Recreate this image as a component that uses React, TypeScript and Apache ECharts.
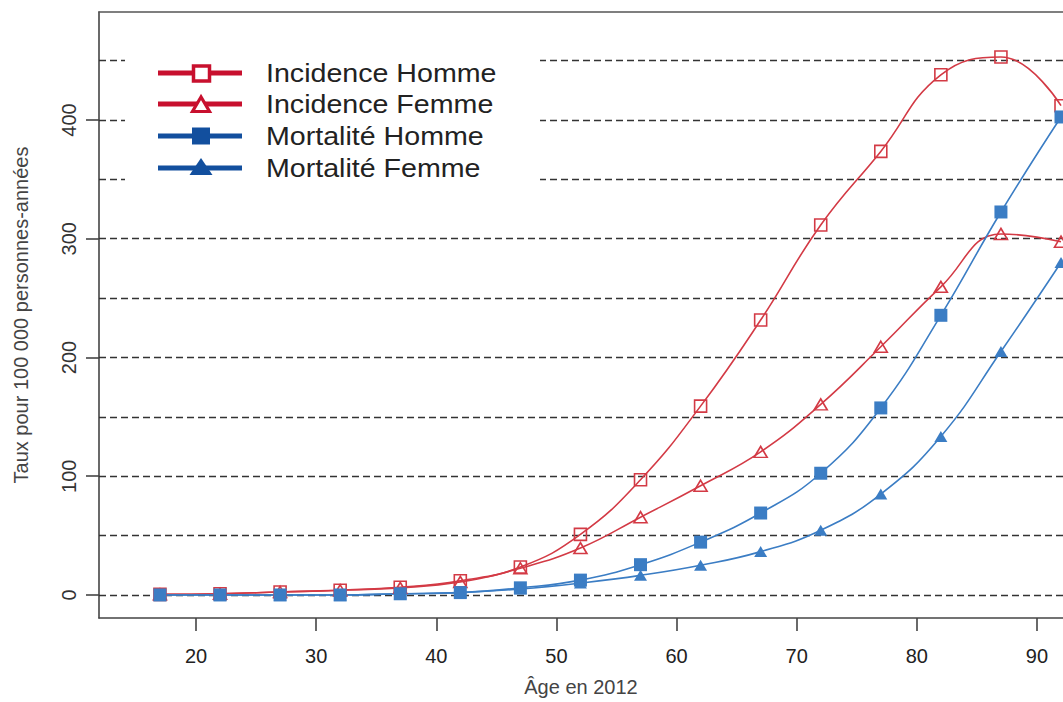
import React, { useEffect, useRef } from "react";
import * as echarts from "echarts";

const ages = [17, 22, 27, 32, 37, 42, 47, 52, 57, 62, 67, 72, 77, 82, 87, 92];
const incidenceHomme = [0.5, 1, 2.5, 4, 6.5, 12, 23.5, 51, 97, 159, 231.5, 311.5, 373.5, 438, 453, 412];
const incidenceFemme = [0.5, 1, 2.5, 4, 6, 11, 22.5, 39.5, 65.5, 92, 120.5, 160.5, 209, 259.5, 304, 297.5];
const mortaliteHomme = [0, 0, 0, 0, 1, 2, 6, 12.5, 25.5, 44.5, 69, 102.5, 157.5, 235.5, 322.5, 402.5];
const mortaliteFemme = [0, 0, 0, 0, 1, 2, 5, 10, 16.5, 25, 36.5, 54.5, 85, 133.5, 205, 280];

const xTickValues = [20, 30, 40, 50, 60, 70, 80, 90];
const yTickValues = [0, 100, 200, 300, 400];
const gridValues = [0, 50, 100, 150, 200, 250, 300, 350, 400, 450];

const seriesNames = ["Incidence Homme", "Incidence Femme", "Mortalité Homme", "Mortalité Femme"];

const RED = "#d33a45";
const BLUE = "#3b7dc4";
const LEG_RED = "#c8102e";
const LEG_BLUE = "#124f9e";
const FONT = "'Liberation Sans', Arial, sans-serif";

export default function App() {
  const ref = useRef<HTMLDivElement>(null);

  useEffect(() => {
    if (!ref.current) return;
    const chart = echarts.init(ref.current, null, { renderer: "svg" });

    const mk = (vals: number[]) => vals.map((v, i) => [ages[i], v]);

    const lineSeries = (
      name: string,
      vals: number[],
      color: string,
      symbol: string,
      size: number | number[],
      filled: boolean
    ) => ({
      name,
      type: "line",
      data: mk(vals),
      smooth: 0.45,
      symbol,
      symbolSize: size,
      showSymbol: true,
      lineStyle: { color, width: 1.6 },
      itemStyle: filled
        ? { color, borderColor: color, borderWidth: 0 }
        : { color: "rgba(255,255,255,0)", borderColor: color, borderWidth: 1.6 },
      z: 3,
    });

    const legendRows = [
      { name: seriesNames[0], color: LEG_RED, shape: "square", filled: false },
      { name: seriesNames[1], color: LEG_RED, shape: "triangle", filled: false },
      { name: seriesNames[2], color: LEG_BLUE, shape: "square", filled: true },
      { name: seriesNames[3], color: LEG_BLUE, shape: "triangle", filled: true },
    ];
    const rowY = [73, 104, 136, 168];
    const legendEls: any[] = [
      {
        type: "rect",
        shape: { x: 125, y: 40, width: 415, height: 155 },
        style: { fill: "#ffffff" },
        z: 100,
      },
    ];
    legendRows.forEach((r, i) => {
      const y = rowY[i];
      legendEls.push({
        type: "line",
        shape: { x1: 158, y1: y, x2: 242, y2: y },
        style: { stroke: r.color, lineWidth: 5 },
        z: 101,
      });
      if (r.shape === "square") {
        legendEls.push({
          type: "rect",
          shape: r.filled ? { x: 192, y: y - 8.5, width: 18, height: 17 } : { x: 193.5, y: y - 7, width: 16, height: 15 },
          style: r.filled
            ? { fill: r.color }
            : { fill: "#ffffff", stroke: r.color, lineWidth: 3.5 },
          z: 102,
        });
      } else {
        legendEls.push({
          type: "polygon",
          shape: r.filled
            ? { points: [[201, y - 10], [189.5, y + 7], [212.5, y + 7]] }
            : { points: [[201, y - 7], [192.5, y + 7.5], [209.5, y + 7.5]] },
          style: r.filled
            ? { fill: r.color }
            : { fill: "#ffffff", stroke: r.color, lineWidth: 3.2 },
          z: 102,
        });
      }
      legendEls.push({
        type: "text",
        x: 266,
        y: y,
        scaleX: 1.1,
        style: {
          text: r.name,
          fill: "#222222",
          font: `26px ${FONT}`,
          fontSize: 26,
          fontFamily: FONT,
          verticalAlign: "middle",
          textAlign: "left",
        },
        z: 103,
      });
    });

    const option: any = {
      animation: false,
      backgroundColor: "#ffffff",
      grid: { left: 99, right: 0, top: 12, bottom: 84, containLabel: false },
      xAxis: [
        {
          type: "value",
          min: 11.926,
          max: 92.166,
          position: "bottom",
          name: "Âge en 2012",
          nameLocation: "middle",
          nameGap: 59,
          nameTextStyle: { fontSize: 20, color: "#444444", fontFamily: FONT },
          axisLine: { show: true, onZero: false, lineStyle: { color: "#444444", width: 1.6 } },
          axisTick: {
            show: true,
            inside: false,
            length: 13,
            customValues: xTickValues,
            lineStyle: { color: "#444444", width: 1.6 },
          },
          axisLabel: {
            show: true,
            customValues: xTickValues,
            margin: 28,
            fontSize: 20,
            color: "#222222",
            fontFamily: FONT,
          },
          splitLine: { show: false },
        },
        {
          type: "value",
          min: 11.926,
          max: 92.166,
          position: "top",
          axisLine: { show: true, onZero: false, lineStyle: { color: "#555555", width: 1.6 } },
          axisTick: { show: false },
          axisLabel: { show: false },
          splitLine: { show: false },
        },
      ],
      yAxis: {
        type: "value",
        min: -19.4,
        max: 490.9,
        name: "Taux pour 100 000 personnes-années",
        nameLocation: "middle",
        nameGap: 68,
        nameTextStyle: { fontSize: 20, color: "#444444", fontFamily: FONT },
        axisLine: { show: true, onZero: false, lineStyle: { color: "#444444", width: 1.6 } },
        axisTick: {
          show: true,
          inside: false,
          length: 13,
          customValues: yTickValues,
          lineStyle: { color: "#444444", width: 1.6 },
        },
        axisLabel: {
          show: true,
          customValues: yTickValues,
          rotate: 90,
          margin: 20,
          fontSize: 20,
          color: "#333333",
          fontFamily: FONT,
        },
        splitLine: { show: false },
      },
      series: [
        {
          ...lineSeries(seriesNames[0], incidenceHomme, RED, "rect", 12, false),
          markLine: {
            silent: true,
            symbol: ["none", "none"],
            label: { show: false },
            lineStyle: { type: [7, 4], color: "#333333", width: 1.4 },
            emphasis: { disabled: true },
            data: gridValues.map((v) => ({ yAxis: v })),
            z: 1,
          },
        },
        lineSeries(seriesNames[1], incidenceFemme, RED, "triangle", [13, 11], false),
        lineSeries(seriesNames[2], mortaliteHomme, BLUE, "rect", 13, true),
        lineSeries(seriesNames[3], mortaliteFemme, BLUE, "triangle", [13, 11], true),
      ],
      graphic: { elements: legendEls },
    };

    chart.setOption(option);
    return () => chart.dispose();
  }, []);

  return (
    <div
      ref={ref}
      style={{ position: "fixed", left: 0, top: 0, width: 1063, height: 702, background: "#fff" }}
    />
  );
}
